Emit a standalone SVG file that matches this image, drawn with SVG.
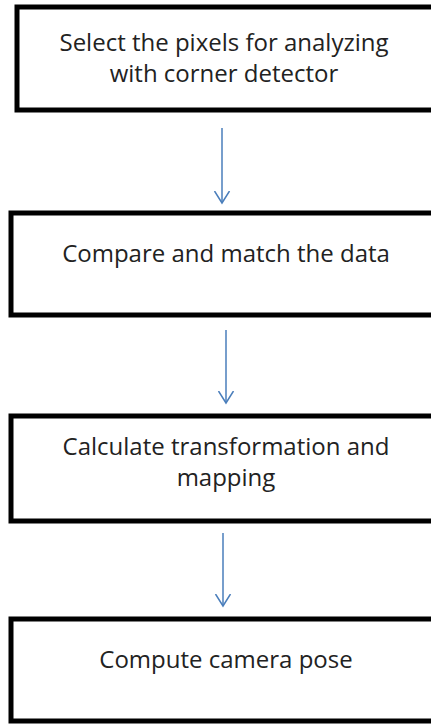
<svg xmlns="http://www.w3.org/2000/svg" width="431" height="724" viewBox="0 0 431 724">
<style>
.box{fill:#fff;stroke:#000;stroke-width:5}
.t{font-family:"Open Sans","Liberation Sans",sans-serif;font-size:24px;fill:#222;text-anchor:middle}
.c{stroke:#4a7ebb;stroke-width:1.5;fill:none}
</style>
<defs>
<marker id="ah" markerWidth="20" markerHeight="20" refX="12" refY="10" orient="auto" markerUnits="userSpaceOnUse" viewBox="0 0 20 20">
<path d="M0 2.5 L12 10 L0 17.5" stroke="#4a7ebb" stroke-width="1.5" fill="none"/>
</marker>
</defs>
<rect width="431" height="724" fill="#fff"/>
<g id="connectors">
<path class="c" d="M222 128 V203" marker-end="url(#ah)"/>
<path class="c" d="M226 330 V403" marker-end="url(#ah)"/>
<path class="c" d="M223 533 V606" marker-end="url(#ah)"/>
</g>
<g id="n1">
<rect class="box" x="17" y="7" width="430" height="103"/>
<text class="t" x="224" y="51">Select the pixels for analyzing</text>
<text class="t" x="224" y="82">with corner detector</text>
</g>
<g id="n2">
<rect class="box" x="11" y="213" width="440" height="102"/>
<text class="t" x="226" y="262">Compare and match the data</text>
</g>
<g id="n3">
<rect class="box" x="11" y="416" width="440" height="105"/>
<text class="t" x="226" y="455">Calculate transformation and</text>
<text class="t" x="226" y="486">mapping</text>
</g>
<g id="n4">
<rect class="box" x="11" y="619" width="440" height="102"/>
<text class="t" x="226" y="668">Compute camera pose</text>
</g>
</svg>
